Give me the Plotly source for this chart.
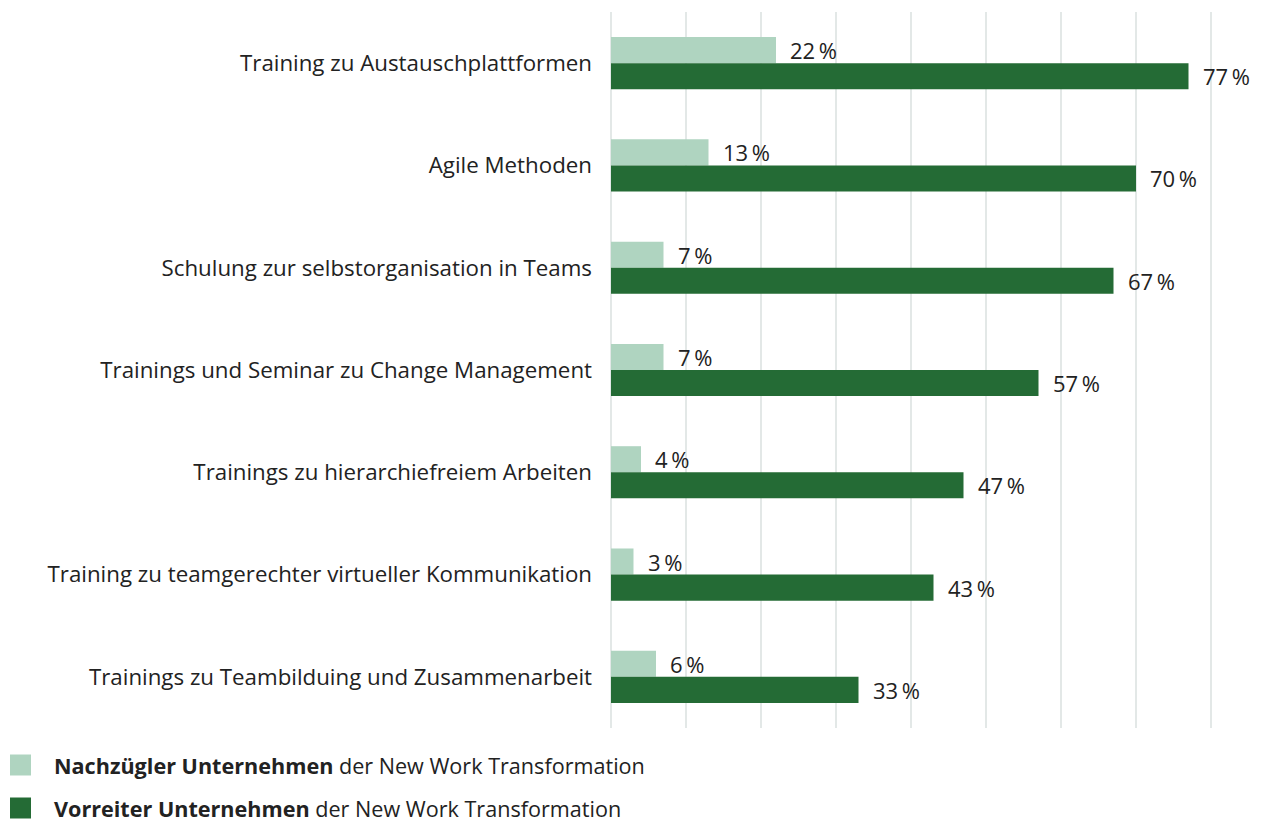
import plotly.graph_objects as go

categories = [
    "Training zu Austauschplattformen",
    "Agile Methoden",
    "Schulung zur selbstorganisation in Teams",
    "Trainings und Seminar zu Change Management",
    "Trainings zu hierarchiefreiem Arbeiten",
    "Training zu teamgerechter virtueller Kommunikation",
    "Trainings zu Teambilduing und Zusammenarbeit",
]
nachzuegler = [22, 13, 7, 7, 4, 3, 6]
vorreiter = [77, 70, 67, 57, 47, 43, 33]
series_names = [
    "<b>Nachzügler Unternehmen</b> der New Work Transformation",
    "<b>Vorreiter Unternehmen</b> der New Work Transformation",
]
colors = ["#afd4c0", "#246b35"]

FONT = "Open Sans"
TXT = "#222222"
FS = 22.3

# plot area: x-range padded by 0.4 units (3 px) each side so edge gridlines show
PW = 606   # plot width px
PH = 716   # plot height px
X0 = 608   # page x of plot-area left edge

fig = go.Figure()
for vals, name, col in zip([nachzuegler, vorreiter], series_names, colors):
    fig.add_trace(go.Bar(
        y=categories, x=vals, orientation="h", name=name,
        marker=dict(color=col, line=dict(width=0)),
        showlegend=False, hoverinfo="skip",
    ))

fig.update_layout(
    width=1260, height=812,
    margin=dict(l=600, r=54, t=4, b=92),
    paper_bgcolor="white", plot_bgcolor="white",
    barmode="group", bargap=0.49, bargroupgap=0,
    font=dict(family=FONT, size=FS, color=TXT),
)
fig.update_xaxes(range=[-0.4, 80.4], tick0=0, dtick=10, showticklabels=False,
                 showgrid=True, gridcolor="#e3e8e7", gridwidth=2,
                 zeroline=False, showline=False, fixedrange=True)
fig.update_yaxes(autorange="reversed", showgrid=False, showline=False,
                 ticks="", ticklabelstandoff=15,
                 tickfont=dict(family=FONT, size=FS, color=TXT))

# value labels
for ti, vals in enumerate([nachzuegler, vorreiter]):
    for cat, v in zip(categories, vals):
        fig.add_annotation(
            x=v, y=cat, xref="x", yref="y", text=f"{v}\u2009%",
            showarrow=False, xanchor="left", xshift=12,
            yshift=13 if ti == 0 else -13,
            font=dict(family=FONT, size=22, color=TXT),
        )

# legend
leg_y = [-37/PH, -80/PH]
for col, name, yy in zip(colors, series_names, leg_y):
    fig.add_shape(type="rect", xref="paper", yref="paper",
                  x0=(10 - X0)/PW, x1=(31 - X0)/PW,
                  y0=yy - 10.5/PH, y1=yy + 10.5/PH,
                  fillcolor=col, line=dict(width=0))
    fig.add_annotation(x=(52 - X0)/PW, y=yy, xref="paper", yref="paper",
                       text=name, showarrow=False, xanchor="left", yanchor="middle",
                       font=dict(family=FONT, size=21.6, color=TXT))

fig.write_html("out.html")
